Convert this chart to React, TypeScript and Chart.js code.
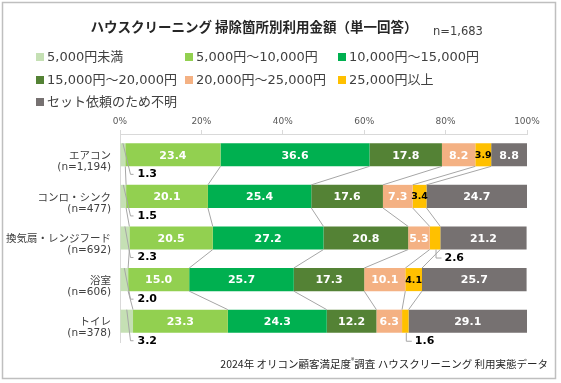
import React, { useEffect, useRef } from 'react';
import { Chart, registerables } from 'chart.js';

Chart.register(...registerables);

const titleText = 'ハウスクリーニング 掃除箇所別利用金額（単一回答）';
const sampleText = 'n=1,683';
const footerPre = '2024年 オリコン顧客満足度';
const footerMark = '®';
const footerPost = '調査 ハウスクリーニング 利用実態データ';

const categoryNames = ['エアコン', 'コンロ・シンク', '換気扇・レンジフード', '浴室', 'トイレ'];
const categoryN = ['(n=1,194)', '(n=477)', '(n=692)', '(n=606)', '(n=378)'];

const seriesNames = [
  '5,000円未満',
  '5,000円〜10,000円',
  '10,000円〜15,000円',
  '15,000円〜20,000円',
  '20,000円〜25,000円',
  '25,000円以上',
  'セット依頼のため不明',
];
const under5k = [1.3, 1.5, 2.3, 2.0, 3.2];
const from5kTo10k = [23.4, 20.1, 20.5, 15.0, 23.3];
const from10kTo15k = [36.6, 25.4, 27.2, 25.7, 24.3];
const from15kTo20k = [17.8, 17.6, 20.8, 17.3, 12.2];
const from20kTo25k = [8.2, 7.3, 5.3, 10.1, 6.3];
const over25k = [3.9, 3.4, 2.6, 4.1, 1.6];
const setUnknown = [8.8, 24.7, 21.2, 25.7, 29.1];
const xTickValues = [0, 20, 40, 60, 80, 100];

const seriesColors = ['#c5e0b4', '#92d050', '#00b050', '#548235', '#f4b183', '#ffc000', '#767171'];

const JP = "'Noto Sans CJK JP', sans-serif";
const MIX = "'DejaVu Sans', 'Noto Sans CJK JP', sans-serif";
const NUM = "'DejaVu Sans', sans-serif";

const decorPlugin = {
  id: 'decor',
  afterDatasetsDraw(chart: any) {
    const ctx = chart.ctx as CanvasRenderingContext2D;
    const sets = chart.data.datasets;
    ctx.save();
    // series lines between adjacent bars
    ctx.strokeStyle = '#a6a6a6';
    ctx.lineWidth = 1;
    for (let d = 0; d < sets.length - 1; d++) {
      const meta = chart.getDatasetMeta(d);
      for (let r = 0; r < meta.data.length - 1; r++) {
        const a = meta.data[r].getProps(['x', 'y', 'height'], true);
        const b = meta.data[r + 1].getProps(['x', 'y', 'height'], true);
        ctx.beginPath();
        ctx.moveTo(a.x, a.y + a.height / 2);
        ctx.lineTo(b.x, b.y - b.height / 2);
        ctx.stroke();
      }
    }
    // value labels
    ctx.textBaseline = 'middle';
    for (let d = 0; d < sets.length; d++) {
      const meta = chart.getDatasetMeta(d);
      for (let r = 0; r < meta.data.length; r++) {
        const v = sets[d].data[r] as number;
        const el = meta.data[r].getProps(['x', 'y', 'base', 'height'], true);
        const cx = (el.x + el.base) / 2;
        const top = el.y - el.height / 2;
        const bottom = el.y + el.height / 2;
        const text = v.toFixed(1);
        if (d === 0) {
          const ly = bottom + 8;
          const lx = el.base + 17;
          ctx.strokeStyle = '#a6a6a6';
          ctx.beginPath();
          ctx.moveTo(cx, top);
          ctx.lineTo(el.base + 10, ly);
          ctx.lineTo(el.base + 13, ly);
          ctx.stroke();
          ctx.fillStyle = '#000000';
          ctx.font = `bold 11px ${NUM}`;
          ctx.textAlign = 'left';
          ctx.fillText(text, lx, ly);
        } else if (d === 5 && v < 3) {
          const ly = bottom + 8.5;
          const lx = cx + 9.5;
          ctx.strokeStyle = '#a6a6a6';
          ctx.beginPath();
          ctx.moveTo(cx + 1, bottom);
          ctx.lineTo(cx + 1, ly);
          ctx.lineTo(lx - 3, ly);
          ctx.stroke();
          ctx.fillStyle = '#000000';
          ctx.font = `bold 11px ${NUM}`;
          ctx.textAlign = 'left';
          ctx.fillText(text, lx, ly);
        } else if (d === 5) {
          ctx.fillStyle = '#000000';
          ctx.font = `bold 9.5px ${NUM}`;
          ctx.textAlign = 'center';
          ctx.fillText(text, cx, el.y + 0.5);
        } else {
          ctx.fillStyle = '#ffffff';
          ctx.font = `bold 11px ${NUM}`;
          ctx.textAlign = 'center';
          ctx.fillText(text, cx, el.y + 1);
        }
      }
    }
    ctx.restore();
  },
  afterDraw(chart: any) {
    const ctx = chart.ctx as CanvasRenderingContext2D;
    ctx.save();
    // border
    ctx.strokeStyle = '#bfbfbf';
    ctx.lineWidth = 1.5;
    ctx.strokeRect(2.5, 2.5, 553, 376);
    // title
    ctx.fillStyle = '#262626';
    ctx.textBaseline = 'middle';
    ctx.textAlign = 'center';
    ctx.font = `bold 13.5px ${JP}`;
    ctx.fillText(titleText, 254, 27);
    ctx.textAlign = 'left';
    ctx.fillStyle = '#404040';
    ctx.font = `11.5px ${NUM}`;
    ctx.fillText(sampleText, 433, 32);
    // legend
    const cols = [36, 185, 338];
    const rows = [57, 80, 102];
    ctx.font = `13px ${MIX}`;
    seriesNames.forEach((name, i) => {
      const bx = cols[i % 3];
      const by = rows[Math.floor(i / 3)];
      ctx.fillStyle = seriesColors[i];
      ctx.fillRect(bx, by - 4, 8, 8);
      ctx.fillStyle = '#404040';
      ctx.fillText(name, bx + 11, by + 0.5);
    });
    // footer
    const right = 548;
    const fy = 364;
    ctx.font = `10.5px ${JP}`;
    const wPost = ctx.measureText(footerPost).width;
    ctx.font = `7px ${JP}`;
    const wMark = ctx.measureText(footerMark).width;
    ctx.font = `10.5px ${JP}`;
    const wPre = ctx.measureText(footerPre).width;
    let x = right - wPost - wMark - wPre;
    ctx.fillStyle = '#262626';
    ctx.fillText(footerPre, x, fy);
    x += wPre;
    ctx.font = `7px ${JP}`;
    ctx.fillText(footerMark, x, fy - 4);
    x += wMark;
    ctx.font = `10.5px ${JP}`;
    ctx.fillText(footerPost, x, fy);
    ctx.restore();
  },
};

export default function App() {
  const ref = useRef<HTMLCanvasElement | null>(null);
  useEffect(() => {
    document.body.style.margin = '0';
    const canvas = ref.current;
    if (!canvas) return;
    const values = [under5k, from5kTo10k, from10kTo15k, from15kTo20k, from20kTo25k, over25k, setUnknown];
    const chart = new Chart(canvas, {
      type: 'bar',
      data: {
        labels: categoryNames.map((n, i) => [n, categoryN[i]]),
        datasets: values.map((data, i) => ({
          label: seriesNames[i],
          data,
          backgroundColor: seriesColors[i],
          borderWidth: 0,
          barPercentage: 0.555,
          categoryPercentage: 1,
        })),
      },
      options: {
        indexAxis: 'y',
        responsive: false,
        animation: false,
        events: [],
        layout: { padding: { top: 0, left: 0, right: 34, bottom: 41 } },
        plugins: {
          legend: { display: false },
          title: { display: false },
          tooltip: { enabled: false },
        },
        scales: {
          x: {
            position: 'top',
            stacked: true,
            min: 0,
            max: 100,
            afterFit: (s: any) => {
              s.height = 134;
            },
            afterBuildTicks: (s: any) => {
              s.ticks = xTickValues.map((v) => ({ value: v }));
            },
            ticks: {
              color: '#595959',
              font: { family: NUM, size: 9 },
              padding: 3,
              callback: (v: any) => `${v}%`,
            },
            grid: {
              drawOnChartArea: false,
              drawTicks: true,
              tickLength: 4,
              color: '#d9d9d9',
            },
            border: { display: true, color: '#d9d9d9' },
          },
          y: {
            stacked: true,
            afterFit: (s: any) => {
              s.width = 120;
            },
            ticks: {
              color: '#404040',
              font: { family: MIX, size: 10.5, lineHeight: 1.05 },
              padding: 9,
              labelOffset: 7,
            },
            grid: { drawOnChartArea: false, drawTicks: false },
            border: { display: true, color: '#d9d9d9' },
          },
        },
      },
      plugins: [decorPlugin],
    });
    return () => chart.destroy();
  }, []);
  return <canvas ref={ref} width={561} height={383} style={{ display: 'block' }} />;
}
